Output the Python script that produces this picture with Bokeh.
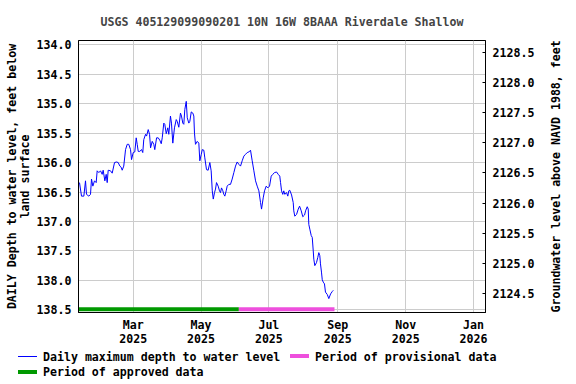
import math
from bokeh.plotting import figure
from bokeh.layouts import column
from bokeh.models import (Range1d, LinearAxis, FixedTicker, Div, NumeralTickFormatter)
from bokeh.embed import file_html
from bokeh.resources import INLINE

# ---- data (day offset from 2025-01-01, depth below land surface in feet) ----
day = [10.7, 12.5, 14.6, 16.1, 17.0, 19.1, 20.6, 21.5, 22.7, 24.2, 25.7, 26.6, 28.1, 29.6,
       31.1, 32.0, 33.5, 34.7, 35.6, 36.5, 38.6, 40.1, 42.2, 44.0, 45.5, 47.0, 48.2, 49.1,
       50.5, 52.1, 53.6, 55.0, 56.6, 57.5, 59.0, 60.4, 61.7, 62.6, 63.5, 64.9, 66.5, 67.6,
       68.5, 70.1, 71.0, 72.5, 73.7, 74.6, 76.1, 77.5, 78.4, 80.0, 81.5, 82.9, 84.2, 85.1,
       86.5, 87.4, 88.7, 90.1, 91.0, 92.5, 93.4, 94.6, 96.1, 97.7, 98.6, 100.0, 101.5, 102.4,
       103.6, 104.5, 105.4, 106.7, 107.6, 109.0, 109.9, 111.2, 112.6, 113.5, 114.1, 115.0,
       116.6, 118.0, 118.9, 120.2, 121.1, 122.5, 123.4, 124.9, 126.4, 127.9, 129.1, 130.1,
       131.0, 132.1, 133.0, 133.9, 135.4, 136.6, 137.5, 138.4, 139.6, 140.5, 141.4, 142.6,
       143.5, 145.0, 146.5, 148.0, 149.5, 151.0, 152.5, 154.0, 155.5, 157.0, 158.5, 160.0,
       161.5, 163.0, 164.5, 166.0, 167.5, 169.0, 170.5, 172.0, 173.5, 174.4, 175.9, 177.1,
       178.6, 180.0, 181.6, 183.1, 184.5, 186.1, 187.9, 189.4, 190.8, 191.5, 192.4, 193.5,
       194.4, 195.3, 196.9, 198.0, 198.9, 199.8, 201.4, 202.9, 203.4, 204.3, 205.9, 207.4,
       208.6, 210.1, 211.5, 213.1, 214.0, 215.5, 216.4, 216.9, 217.8, 219.1, 220.0, 220.9,
       221.4, 222.3, 223.8, 225.0, 225.9, 226.8, 227.4, 228.3, 229.0, 229.9, 231.0, 231.9,
       233.5, 234.9, 236.5, 238.0, 238.9]
depth = [136.34, 136.57, 136.57, 136.31, 136.54, 136.57, 136.54, 136.28, 136.40, 136.31,
         136.34, 136.14, 136.17, 136.14, 136.20, 136.13, 136.31, 136.20, 136.34, 136.13,
         136.14, 136.18, 136.00, 135.99, 136.00, 136.06, 136.08, 136.13, 136.06, 135.78,
         135.69, 135.69, 135.78, 135.95, 135.83, 135.82, 135.58, 135.69, 135.81, 135.81,
         135.78, 135.83, 135.61, 135.52, 135.55, 135.44, 135.52, 135.75, 135.64, 135.69,
         135.78, 135.58, 135.58, 135.62, 135.68, 135.58, 135.33, 135.35, 135.51, 135.41,
         135.52, 135.21, 135.33, 135.67, 135.41, 135.27, 135.30, 135.40, 135.16, 135.21,
         135.33, 135.35, 135.10, 134.96, 135.24, 135.33, 135.30, 135.14, 135.16, 135.21,
         135.50, 135.69, 135.64, 135.67, 135.97, 135.86, 135.78, 135.79, 135.92, 136.12,
         136.13, 136.00, 136.14, 136.48, 136.62, 136.51, 136.45, 136.34, 136.40, 136.48,
         136.51, 136.43, 136.48, 136.54, 136.57, 136.48, 136.40, 136.37, 136.37, 136.28,
         136.17, 136.06, 135.99, 136.03, 136.06, 135.97, 135.89, 135.86, 135.83, 135.82,
         135.79, 135.97, 136.14, 136.31, 136.40, 136.48, 136.68, 136.79, 136.60, 136.48,
         136.40, 136.43, 136.40, 136.23, 136.20, 136.17, 136.16, 136.20, 136.23, 136.34,
         136.48, 136.54, 136.48, 136.54, 136.51, 136.57, 136.48, 136.47, 136.55, 136.68,
         136.82, 136.91, 136.88, 136.79, 136.74, 136.82, 136.92, 136.89, 136.82, 136.75,
         136.79, 137.05, 137.13, 137.24, 137.27, 137.50, 137.64, 137.75, 137.70, 137.61,
         137.53, 137.58, 137.72, 137.86, 137.99, 138.03, 138.06, 138.20, 138.24, 138.31,
         138.23, 138.19, 138.17]

approved_period = [10.0, 154.0]
provisional_period = [154.0, 240.0]

x_tick_days = [59, 120, 181, 243, 304, 365]
x_tick_labels = ["Mar\n2025", "May\n2025", "Jul\n2025", "Sep\n2025", "Nov\n2025", "Jan\n2026"]
depth_ticks = [134.0, 134.5, 135.0, 135.5, 136.0, 136.5, 137.0, 137.5, 138.0, 138.5]
elev_ticks = [2124.5, 2125.0, 2125.5, 2126.0, 2126.5, 2127.0, 2127.5, 2128.0, 2128.5]
legend_labels = ["Daily maximum depth to water level", "Period of provisional data",
                 "Period of approved data"]

FONT = "DejaVu Sans Mono"
FS = "11.6px"
BLUE, PINK, GREEN = "#0000ff", "#ee4fdd", "#009900"

p = figure(width=576, height=350, output_backend="svg", toolbar_location=None,
           x_range=Range1d(9.8, 375.8), y_range=Range1d(138.546, 133.927),
           min_border_left=78, min_border_right=91, min_border_top=39,
           min_border_bottom=38, title="USGS 405129099090201 10N 16W 8BAAA Riverdale Shallow")

p.title.align = "center"
p.title.text_font = FONT
p.title.text_font_size = FS
p.title.text_font_style = "bold"
p.title.standoff = 24

p.outline_line_color = "black"
p.outline_line_alpha = 1.0

bar_y = 138.49
p.line(day, depth, line_color=BLUE, line_width=1)
p.line(approved_period, [bar_y, bar_y], line_color=GREEN, line_width=4)
p.line(provisional_period, [bar_y, bar_y], line_color=PINK, line_width=4)

xticker = FixedTicker(ticks=x_tick_days)
p.xaxis.ticker = xticker
p.xaxis.major_label_overrides = {d: l for d, l in zip(x_tick_days, x_tick_labels)}
p.xgrid.ticker = xticker

yticker = FixedTicker(ticks=depth_ticks)
p.yaxis.ticker = yticker
p.yaxis.formatter = NumeralTickFormatter(format="0.0")
p.ygrid.ticker = yticker
p.yaxis.axis_label = "DAILY Depth to water level, feet below\nland surface"

p.extra_y_ranges = {"elev": Range1d(2124.19, 2128.693)}
raxis = LinearAxis(y_range_name="elev", ticker=FixedTicker(ticks=elev_ticks),
                   formatter=NumeralTickFormatter(format="0.0"),
                   axis_label="Groundwater level above NAVD 1988, feet")
p.add_layout(raxis, "right")

for g in (p.xgrid, p.ygrid):
    g.grid_line_color = "#cccccc"
    g.grid_line_width = 1

for ax in p.axis:
    ax.axis_line_color = "black"
    ax.major_tick_out = 0
    ax.major_tick_in = 0
    ax.minor_tick_out = 0
    ax.minor_tick_in = 0
    ax.major_label_text_font = FONT
    ax.major_label_text_font_size = FS
    ax.major_label_text_font_style = "bold"
    ax.major_label_text_color = "black"
    ax.axis_label_text_font = FONT
    ax.axis_label_text_font_size = FS
    ax.axis_label_text_font_style = "bold"
    ax.axis_label_text_color = "black"

p.xaxis.major_label_standoff = 5
p.xaxis.major_label_text_line_height = 1.05
p.yaxis.major_label_standoff = 7
p.yaxis.axis_label_standoff = 2
p.yaxis.axis_label_text_line_height = 0.9
raxis.major_tick_in = 3
raxis.major_label_standoff = 7
raxis.axis_label_standoff = 19
raxis.axis_label_orientation = math.pi / 2
try:
    raxis.axis_label_align = "start"
except Exception:
    pass

# ---- legend strip below the chart (HTML) ----
def swatch(left, top, h, color):
    return (f'<span style="position:absolute;left:{left}px;top:{top}px;width:19px;'
            f'height:{h}px;background:{color};"></span>')

def label(left, top, text):
    return (f'<span style="position:absolute;left:{left}px;top:{top}px;line-height:14px;'
            f'white-space:nowrap;">{text}</span>')

html = (f'<div style="position:relative;width:576px;height:34px;font-family:\'{FONT}\';'
        f'font-weight:bold;font-size:{FS};color:#000;">'
        + swatch(18, 6, 1, BLUE) + label(43, 0, legend_labels[0])
        + swatch(290, 4, 4, PINK) + label(315, 0, legend_labels[1])
        + swatch(18, 20, 4, GREEN) + label(43, 15, legend_labels[2])
        + '</div>')
legend_div = Div(text=html, width=576, height=34, margin=0)

layout = column(p, legend_div, spacing=0)
open("out.html", "w").write(file_html(layout, INLINE))
